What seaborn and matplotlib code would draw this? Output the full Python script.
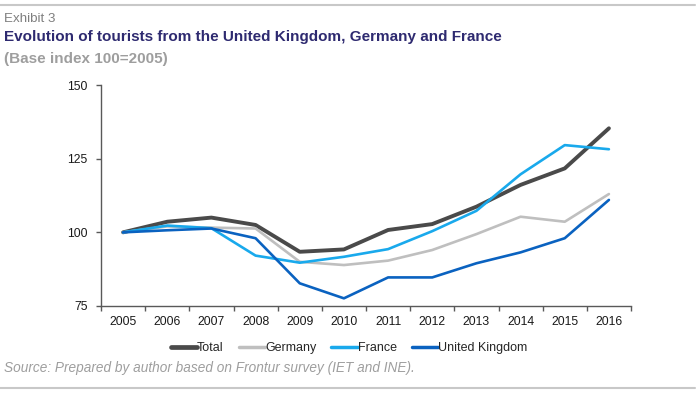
"""Exhibit 3: evolution of tourists from the UK, Germany and France (index 2005=100)."""

import matplotlib

matplotlib.use("Agg")
import matplotlib.pyplot as plt
import numpy as np
import pandas as pd
import seaborn as sns
from matplotlib.lines import Line2D
from matplotlib.ticker import FixedLocator

years = [2005, 2006, 2007, 2008, 2009, 2010, 2011, 2012, 2013, 2014, 2015, 2016]
total = [100, 103.6, 105.0, 102.5, 93.4, 94.2, 100.8, 102.8, 108.7, 116.1, 121.7, 135.3]
germany = [100, 102.0, 101.6, 101.3, 90.0, 88.9, 90.4, 94.0, 99.4, 105.3, 103.6, 113.0]
france = [100, 102.3, 101.4, 92.1, 89.7, 91.7, 94.3, 100.4, 107.3, 119.7, 129.6, 128.2]
uk = [100, 100.7, 101.3, 98.0, 82.7, 77.6, 84.7, 84.7, 89.5, 93.2, 98.0, 111.0]

series_names = ["Total", "Germany", "France", "United Kingdom"]
y_ticks = [75, 100, 125, 150]

palette = {
    "Total": "#4a4a4a",
    "Germany": "#bfbfbf",
    "France": "#19a9ec",
    "United Kingdom": "#0a62c0",
}
widths = {"Total": 2.8, "Germany": 1.9, "France": 1.9, "United Kingdom": 1.9}

df = pd.DataFrame({"year": years, "Total": total, "Germany": germany,
                   "France": france, "United Kingdom": uk})
long_df = df.melt(id_vars="year", var_name="series", value_name="index")

sns.set_theme(style="white")
plt.rcParams["font.family"] = ["Liberation Sans", "DejaVu Sans"]

fig = plt.figure(figsize=(6.96, 3.94), dpi=100)
ax = fig.add_axes([101 / 696, 1 - 306 / 394, 530 / 696, 221 / 394])

for name in series_names:
    sns.lineplot(
        data=long_df[long_df["series"] == name],
        x="year",
        y="index",
        color=palette[name],
        linewidth=widths[name],
        label=name,
        legend=False,
        ax=ax,
    )

ax.set_xlim(years[0] - 0.5, years[-1] + 0.5)
ax.set_ylim(y_ticks[0], y_ticks[-1])
ax.set_xticks(years)
ax.set_xticklabels([str(y) for y in years])
ax.xaxis.set_minor_locator(FixedLocator(np.arange(years[0] - 0.5, years[-1] + 1, 1.0)))
ax.set_yticks(y_ticks)
ax.set_xlabel("")
ax.set_ylabel("")

for side in ["top", "right"]:
    ax.spines[side].set_visible(False)
for side in ["left", "bottom"]:
    ax.spines[side].set_color("#595959")
    ax.spines[side].set_linewidth(1.0)

ax.tick_params(axis="x", which="major", length=0, pad=7, labelsize=8.8, labelcolor="#1a1a1a")
ax.tick_params(axis="x", which="minor", length=3.5, width=1.0, color="#595959", direction="out",
               bottom=True)
ax.tick_params(axis="y", length=3.5, width=1.0, color="#595959", direction="out", left=True,
               pad=6, labelsize=8.8, labelcolor="#1a1a1a")

handles = [Line2D([0], [0], color=palette[n], linewidth=widths[n] + 0.6) for n in series_names]
fig.legend(
    handles,
    series_names,
    loc="center",
    bbox_to_anchor=(349 / 696, 1 - 348 / 394),
    ncol=4,
    frameon=False,
    fontsize=9,
    handlelength=2.1,
    handletextpad=0.0,
    columnspacing=1.2,
    borderpad=0,
)

fig.text(4 / 696, 1 - 21.7 / 394, "Exhibit 3", fontsize=9.6, color="#7f7f7f", va="baseline")
fig.text(4 / 696, 1 - 41 / 394, "Evolution of tourists from the United Kingdom, Germany and France",
         fontsize=11, fontweight="bold", color="#2e2a70", va="baseline")
fig.text(4 / 696, 1 - 62.7 / 394, "(Base index 100=2005)", fontsize=11, fontweight="bold",
         color="#9e9e9e", va="baseline")
fig.text(4 / 696, 1 - 371.7 / 394, "Source: Prepared by author based on Frontur survey (IET and INE).",
         fontsize=9.8, style="italic", color="#9e9e9e", va="baseline")

for y_px in [5, 388]:
    fig.add_artist(Line2D([0, 695 / 696], [1 - y_px / 394] * 2, transform=fig.transFigure,
                          color="#c8c8c8", linewidth=1.5))

fig.savefig("out.png", dpi=100)
plt.close(fig)
